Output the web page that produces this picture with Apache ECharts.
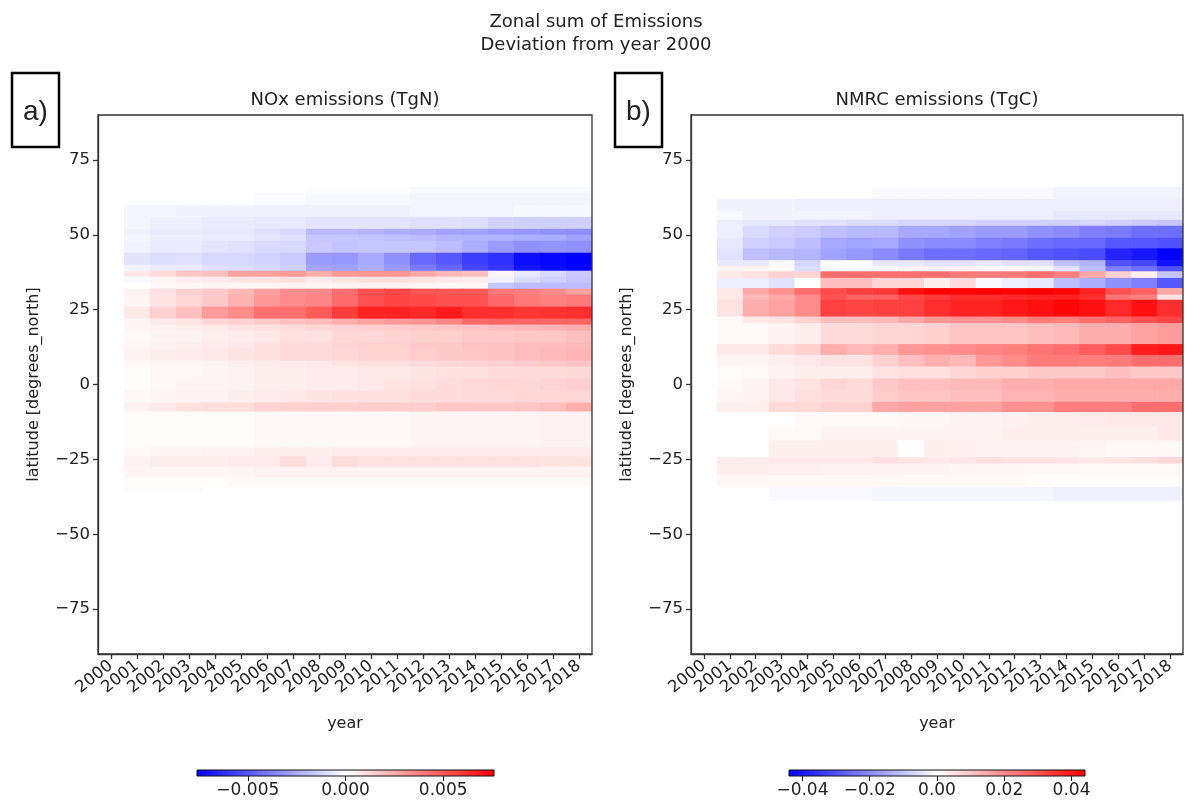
<!DOCTYPE html>
<html><head><meta charset="utf-8">
<script src="https://cdn.jsdelivr.net/npm/echarts@6/dist/echarts.min.js"></script>
<style>html,body{margin:0;padding:0;background:#fff}#c{width:1192px;height:803px}</style>
</head><body><div id="c"></div>
<script>
// ---------- data ----------
const years = ['2000','2001','2002','2003','2004','2005','2006','2007','2008','2009','2010','2011','2012','2013','2014','2015','2016','2017','2018'];
const latTicks = [-75, -50, -25, 0, 25, 50, 75];
const noxTicks = [-0.005, 0, 0.005];
const nmrcTicks = [-0.04, -0.02, 0, 0.02, 0.04];
const noxLimit = 0.0076;   // colour scale limit, TgN
const nmrcLimit = 0.044;   // colour scale limit, TgC
const noxUnit = 1e-4;      // noxVal is given in 1e-4 TgN
const nmrcUnit = 1e-3;     // nmrcVal is given in 1e-3 TgC

// latitude bands [south, north] (degrees north)
const noxLat = [[64,66],[60,64],[56,60],[52,56],[50,52],[48,50],[44,48],[40,44],[38,40],[36,38],[34,36],[32,34],[30,32],[26,30],[22,26],[20,22],[18,20],[14,18],[12,14],[8,12],[6,8],[2,6],[-2,2],[-6,-2],[-9,-6],[-21,-9],[-24,-21],[-27.5,-24],[-31,-27.5],[-34,-31],[-36,-34]];
// deviation from 2000, one row per band, one value per year (1e-4 TgN)
const noxVal = [
 [0,0,0,0,0,0,0,0,-1,-1,-1,-1,-2,-2,-2,-2,-2,-2,-2],
 [0,0,0,0,0,0,-1,-1,-2,-2,-2,-2,-3,-3,-3,-3,-3,-3,-3],
 [0,-3,-3,-4,-4,-4,-4,-4,-4,-4,-4,-4,-3,-3,-3,-3,-2,-2,-2],
 [0,-3,-5,-5,-6,-6,-7,-7,-8,-8,-8,-8,-9,-9,-10,-13,-14,-14,-14],
 [0,-4,-6,-6,-7,-7,-9,-11,-21,-21,-22,-24,-25,-27,-28,-30,-31,-33,-34],
 [0,-3,-5,-5,-6,-6,-8,-9,-17,-17,-18,-19,-20,-22,-22,-23,-24,-24,-28],
 [0,-4,-6,-6,-8,-9,-11,-12,-16,-18,-17,-17,-17,-20,-24,-30,-33,-32,-33],
 [0,-8,-10,-9,-12,-12,-13,-16,-30,-31,-26,-33,-45,-50,-58,-62,-72,-74,-76],
 [0,-4,-6,-6,-9,-10,-12,-14,-27,-28,-24,-30,-40,-46,-55,-60,-70,-73,-75],
 [0,7,11,17,19,28,28,30,24,30,31,31,26,21,19,3,-7,-12,-16],
 [0,-2,3,5,6,8,8,9,6,8,9,9,8,6,5,-4,-10,-14,-17],
 [0,0,2,2,3,3,3,4,3,4,4,4,3,2,2,-17,-20,-20,-20],
 [0,4,9,14,16,21,28,34,35,43,52,55,50,50,50,40,38,35,28],
 [0,3,8,12,16,23,30,35,36,44,52,55,54,52,52,45,40,38,40],
 [0,7,14,19,30,35,43,43,49,58,66,66,64,68,62,62,60,61,62],
 [0,3,6,8,12,14,16,18,20,24,28,30,32,36,44,46,46,46,46],
 [0,3,4,5,6,8,9,10,12,13,14,15,16,17,18,20,21,22,24],
 [0,2,3,4,5,6,7,9,9,12,12,13,14,14,16,16,17,17,19],
 [0,3,4,5,6,7,9,10,11,13,14,14,16,16,18,18,20,20,21],
 [0,4,5,6,7,8,9,10,11,12,13,13,15,16,17,18,20,21,22],
 [0,2,3,3,4,5,6,6,7,8,9,9,11,12,13,14,15,16,18],
 [0,1,2,2,3,4,5,5,6,6,7,7,8,9,9,10,11,11,12],
 [0,1,2,3,3,4,5,5,6,6,7,8,9,10,11,12,12,13,14],
 [0,2,3,4,4,5,6,7,8,9,9,9,10,10,11,11,12,12,12],
 [0,4,6,9,10,10,13,14,14,14,15,15,15,16,16,16,17,19,24],
 [0,1,1,1,1,1,2,2,2,2,2,2,3,3,3,3,3,4,4],
 [0,2,3,3,4,4,5,5,5,6,6,6,6,6,6,6,6,6,6],
 [0,4,5,5,5,6,6,10,6,10,9,9,9,9,9,9,9,8,8],
 [0,3,3,3,3,3,4,4,4,4,4,4,4,4,4,4,4,4,4],
 [0,1,1,1,1,2,2,2,2,2,2,2,2,2,2,2,2,2,2],
 [0,-1,-1,-1,0,0,0,0,0,0,0,0,0,0,0,0,0,0,0]
];

const nmrcLat = [[62,66],[58,62],[55,58],[53,55],[49,53],[45.5,49],[41.5,45.5],[39.5,41.5],[37.8,39.5],[35.6,37.8],[32.2,35.6],[30,32.2],[28.3,30],[22.7,28.3],[20.5,22.7],[13.5,20.5],[9.9,13.5],[6,9.9],[2,6],[-2,2],[-5.8,-2],[-9.2,-5.8],[-14.2,-9.2],[-18.7,-14.2],[-24.2,-18.7],[-26.4,-24.2],[-30.3,-26.4],[-34.2,-30.3],[-38.7,-34.2]];
// deviation from 2000 (1e-3 TgC)
const nmrcVal = [
 [0,0,0,0,0,0,0,-1,-1,-1,-1,-1,-1,-1,-2,-2,-2,-2,-2],
 [0,-2,-2,-2,-3,-3,-3,-3,-3,-3,-3,-3,-3,-3,-3,-3,-3,-3,-3],
 [0,-1,-2,-2,-2,-2,-2,-3,-3,-3,-3,-3,-3,-3,-4,-4,-4,-4,-4],
 [0,-3,-4,-4,-5,-5,-6,-6,-7,-7,-7,-8,-8,-8,-8,-7,-8,-9,-10],
 [0,-3,-6,-8,-9,-11,-12,-12,-15,-15,-16,-17,-17,-19,-20,-22,-23,-25,-25],
 [0,-4,-8,-9,-11,-15,-16,-15,-19,-20,-20,-22,-23,-25,-26,-26,-29,-29,-30],
 [0,-5,-11,-12,-13,-16,-18,-20,-23,-25,-25,-26,-27,-29,-30,-31,-38,-40,-44],
 [0,-4,-4,-1,-7,0,0,-4,-4,-5,-5,-4,-5,-5,-11,-13,-30,-32,-41],
 [0,2,2,1,-6,1,1,1,2,2,2,1,1,1,-5,-11,-22,-25,-30],
 [0,4,5,8,7,25,25,25,25,25,23,23,23,25,22,15,8,3,-10],
 [0,-3,-3,-5,0,11,11,7,7,3,6,-1,-3,-4,-11,-14,-19,-22,-29],
 [0,4,15,19,25,31,33,34,41,44,43,44,43,44,43,38,30,27,15],
 [0,4,12,15,20,30,27,27,32,34,36,36,37,38,38,36,24,22,5],
 [0,5,14,16,20,33,32,33,33,36,38,38,40,41,43,41,37,41,36],
 [0,1,4,5,8,11,11,12,15,18,19,19,20,23,22,25,27,30,32],
 [0,1,1,2,3,6,6,7,7,8,10,10,10,11,12,14,14,16,17],
 [0,4,4,6,8,14,12,14,18,19,20,21,22,24,25,28,31,39,40],
 [0,2,2,3,4,5,5,8,11,14,12,18,20,23,23,22,23,25,25],
 [0,0.5,1,2,3,3,3,5,5.5,5.5,7,8,8,9.5,9.5,9.5,11,9.5,9.5],
 [0,1,2,4,5,7,6,9.5,11,11,12,12,14,14,15,15,15,15,15],
 [0,1.5,2,4,5.5,6,6,9,10,10,11,11,13,13,14,14,14,14,14],
 [0,2.6,2.6,6.7,6.7,8,8,15,16,16,16,16,19,19,22,22,22,25,25],
 [0,0,0,0,1,1,1,1,1.5,1.5,2,2,2.5,3,3,3.5,4,4,4],
 [0,0,0,1,1,2,2,2,2,2,2,2,3,3,3,3,3,3,4],
 [0,0,0,2.6,2.6,2.6,2.6,2.6,0,2.6,2.5,2,2,2,2,1.5,1.2,1.2,1.2],
 [0,3.3,3.5,4,4,4,4,5.5,4.5,4,4.5,5.5,5,5,4.5,4,4.5,5.5,6.7],
 [0,2.6,2.6,2.5,2.5,2.2,2.2,2,1.9,1.9,1.8,1.5,1.5,1.2,1.2,1,1,1,1],
 [0,1.2,1.2,1.2,1.2,1.2,1.2,1.2,1,1,1,1,1,0.5,0.5,0.5,0.5,0.5,0.5],
 [0,0,0,-1,-1,-1,-1,-1.5,-1.5,-1.5,-1.5,-1.5,-1.5,-1.5,-2.6,-2.6,-2.6,-2.6,-2.6]
];

// ---------- chart ----------
const F = 'DejaVu Sans';
const INK = '#222';
const minus = s => String(s).replace('-', '\u2212');

function cells(lat, val, unit) {
  const out = [];
  lat.forEach((b, i) => val[i].forEach((v, j) => out.push([j, b[0], b[1], v * unit])));
  return out;
}
function cellItem(params, api) {
  const j = api.value(0);
  const top = api.coord([j, api.value(2)]);
  const bot = api.coord([j, api.value(1)]);
  const w = api.size([1, 0])[0];
  return {type: 'rect', shape: {x: top[0] - w / 2, y: top[1], width: w + 0.6, height: bot[1] - top[1] + 0.6},
          style: {fill: api.visual('color')}};
}
function barItem(params, api) {
  const p0 = api.coord([api.value(0), api.value(3)]);
  const p1 = api.coord([api.value(1), api.value(2)]);
  return {type: 'rect', shape: {x: p0[0], y: p0[1], width: p1[0] - p0[0], height: p1[1] - p0[1]},
          style: {fill: new echarts.graphic.LinearGradient(0, 0, 1, 0, [
            {offset: 0, color: '#0000ff'}, {offset: 0.5, color: '#ffffff'}, {offset: 1, color: '#ff0000'}]),
            stroke: '#111', lineWidth: 1}};
}
const lineStyle = {color: '#333', width: 1.3};
function yearAxis(gi) {
  return {type: 'category', gridIndex: gi, data: years, boundaryGap: true, z: 10,
    name: 'year', nameLocation: 'middle', nameGap: 62,
    nameTextStyle: {fontFamily: F, fontSize: 16, color: INK},
    axisLine: {show: true, onZero: false, lineStyle}, axisTick: {show: true, alignWithLabel: true, length: 5, lineStyle},
    axisLabel: {interval: 0, rotate: 38, fontFamily: F, fontSize: 16.5, color: INK, margin: 10},
    splitLine: {show: false}};
}
function latAxis(gi) {
  return {type: 'value', gridIndex: gi, min: -90, max: 90, z: 10,
    name: 'latitude [degrees_north]', nameLocation: 'middle', nameGap: 56, nameRotate: 90,
    nameTextStyle: {fontFamily: F, fontSize: 16, color: INK},
    axisLine: {show: true, onZero: false, lineStyle}, axisTick: {show: true, customValues: latTicks, length: 5, lineStyle},
    axisLabel: {customValues: latTicks, fontFamily: F, fontSize: 16.5, color: INK, margin: 8, formatter: v => minus(v)},
    splitLine: {show: false}};
}
function barAxis(gi, lim, ticks, dec) {
  return {type: 'value', gridIndex: gi, min: -lim, max: lim, z: 10,
    axisLine: {show: false, onZero: false}, axisTick: {show: true, customValues: ticks, length: 5, lineStyle: {color: '#222', width: 1}},
    axisLabel: {customValues: ticks, fontFamily: F, fontSize: 17, color: INK, margin: 6, formatter: v => minus(Number(v).toFixed(dec))},
    splitLine: {show: false}};
}
const hidden = gi => ({type: 'value', gridIndex: gi, min: 0, max: 1, show: false});

const chart = echarts.init(document.getElementById('c'), null, {renderer: 'canvas'});
const ttl = (text, left, top) => ({text, left, top, textAlign: 'center', padding: 0,
  textStyle: {fontFamily: F, fontSize: 18, fontWeight: 'normal', color: INK}});
chart.setOption({
  animation: false,
  backgroundColor: '#fff',
  title: [ttl('Zonal sum of Emissions', 596, 13), ttl('Deviation from year 2000', 596, 36),
          ttl('NOx emissions (TgN)', 345, 91), ttl('NMRC emissions (TgC)', 937, 91)],
  grid: [
    {left: 98, top: 115, width: 494, height: 539, show: true, borderColor: '#333', borderWidth: 1.3, z: 10},
    {left: 691, top: 115, width: 492, height: 539, show: true, borderColor: '#333', borderWidth: 1.3, z: 10},
    {left: 197, top: 770, width: 297, height: 6},
    {left: 789, top: 770, width: 296, height: 6}
  ],
  xAxis: [yearAxis(0), yearAxis(1), barAxis(2, noxLimit, noxTicks, 3), barAxis(3, nmrcLimit, nmrcTicks, 2)],
  yAxis: [latAxis(0), latAxis(1), hidden(2), hidden(3)],
  visualMap: [
    {type: 'continuous', show: false, seriesIndex: 0, dimension: 3, min: -noxLimit, max: noxLimit,
     inRange: {color: ['#0000ff', '#ffffff', '#ff0000']}},
    {type: 'continuous', show: false, seriesIndex: 1, dimension: 3, min: -nmrcLimit, max: nmrcLimit,
     inRange: {color: ['#0000ff', '#ffffff', '#ff0000']}}
  ],
  series: [
    {type: 'custom', name: 'NOx', xAxisIndex: 0, yAxisIndex: 0, clip: true, renderItem: cellItem,
     dimensions: ['year', 'south', 'north', 'value'], encode: {x: 0, y: [1, 2]}, data: cells(noxLat, noxVal, noxUnit)},
    {type: 'custom', name: 'NMRC', xAxisIndex: 1, yAxisIndex: 1, clip: true, renderItem: cellItem,
     dimensions: ['year', 'south', 'north', 'value'], encode: {x: 0, y: [1, 2]}, data: cells(nmrcLat, nmrcVal, nmrcUnit)},
    {type: 'custom', xAxisIndex: 2, yAxisIndex: 2, renderItem: barItem, encode: {x: [0, 1], y: [2, 3]},
     data: [[-noxLimit, noxLimit, 0, 1]], silent: true},
    {type: 'custom', xAxisIndex: 3, yAxisIndex: 3, renderItem: barItem, encode: {x: [0, 1], y: [2, 3]},
     data: [[-nmrcLimit, nmrcLimit, 0, 1]], silent: true}
  ],
  graphic: [
    {type: 'rect', shape: {x: 12, y: 73, width: 47, height: 74}, style: {fill: '#fff', stroke: '#000', lineWidth: 2.5}},
    {type: 'text', x: 35.5, y: 112, style: {text: 'a)', fill: INK, align: 'center', verticalAlign: 'middle',
      font: '28px "Liberation Sans Narrow", "Liberation Sans", sans-serif'}},
    {type: 'rect', shape: {x: 615, y: 73, width: 47, height: 74}, style: {fill: '#fff', stroke: '#000', lineWidth: 2.5}},
    {type: 'text', x: 638.5, y: 112, style: {text: 'b)', fill: INK, align: 'center', verticalAlign: 'middle',
      font: '28px "Liberation Sans Narrow", "Liberation Sans", sans-serif'}}
  ]
});
</script></body></html>
